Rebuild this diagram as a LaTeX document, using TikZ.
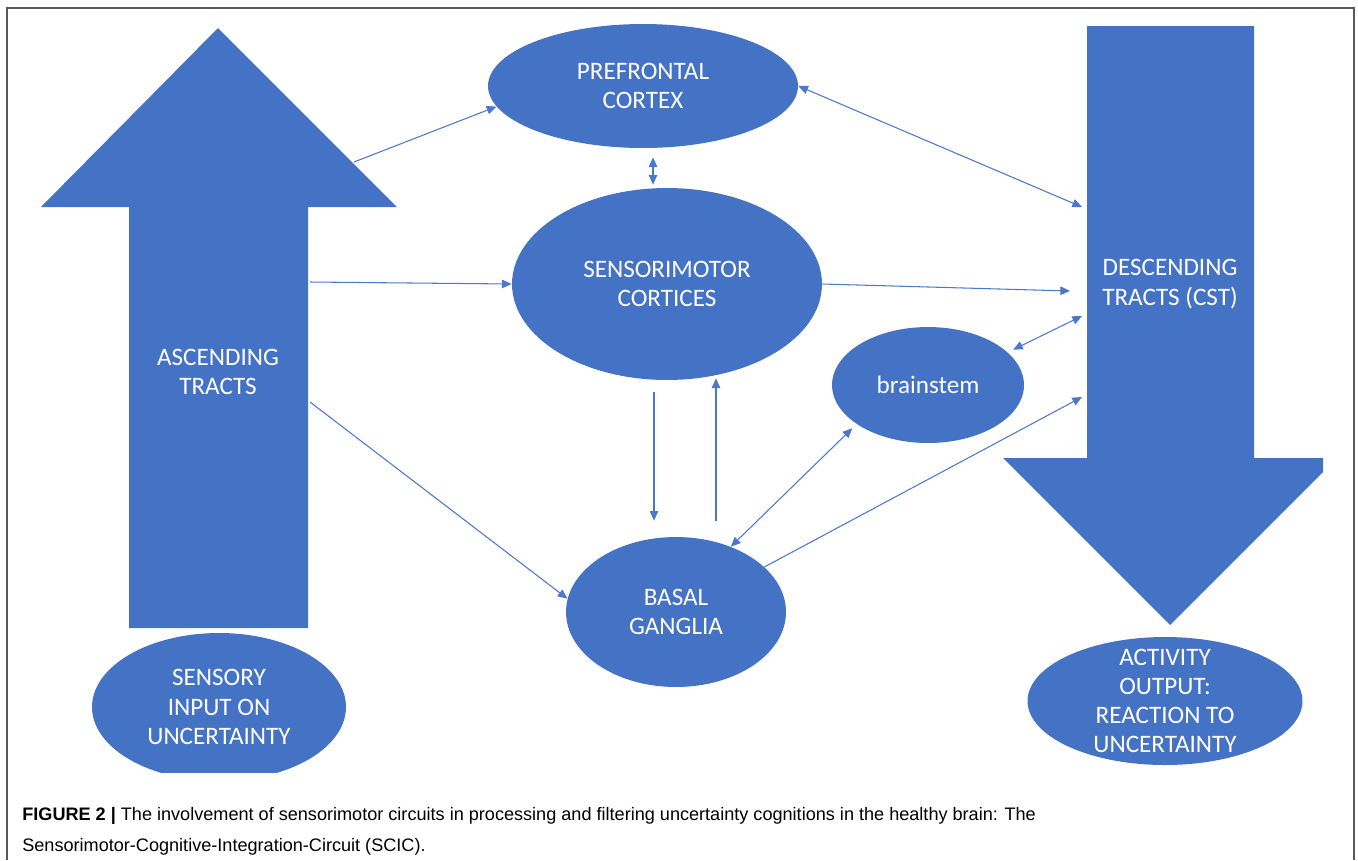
\documentclass[tikz,border=0pt]{standalone}
\usepackage{fontspec}
\setmainfont{Carlito}
\newfontfamily\capfont{Liberation Sans}
\usepackage{xcolor}
\usetikzlibrary{shapes.geometric,arrows.meta,calc}

\definecolor{ppblue}{HTML}{4472C4}
\definecolor{lnblue}{HTML}{4A78CC}

\begin{document}
\begin{tikzpicture}[x=0.02cm, y=-0.02cm,
        main/.style = {ellipse, fill=ppblue, text=white, inner sep=0pt, align=center,
                       font=\fontsize{14.3}{16.6}\selectfont},
        big/.style = {fill=ppblue},
        label/.style = {text=white, align=center, font=\fontsize{14.3}{16.6}\selectfont},
        link/.style = {draw=lnblue, line width=0.6pt, -{Triangle[length=5.5pt,width=4.8pt]}},
        both/.style = {link, {Triangle[length=5.5pt,width=4.8pt]}-{Triangle[length=5.5pt,width=4.8pt]}}]
        \useasboundingbox (0,0) rectangle (1358,860);

        % frame
        \draw[line width=1pt, black!65] (7,860) -- (7,8) -- (1354,8) -- (1354,860);

        % the two big arrows
        \fill[big] (129,628) -- (129,207) -- (41,207) -- (218,28) -- (397,207)
                   -- (308,207) -- (308,628) -- cycle;
        \fill[big] (1087,26) -- (1254,26) -- (1254,458) -- (1323,458) -- (1323,472)
                   -- (1170,625) -- (1003,458) -- (1087,458) -- cycle;
        \node[label] (asc) at (218,372) {ASCENDING\\TRACTS};
        \node[label] (desc) at (1170,284) {DESCENDING\\TRACTS (CST)};

        % ellipses
        \node[main, minimum width=6.2cm, minimum height=2.48cm] (pfc) at (643,86) {PREFRONTAL\\CORTEX};
        \node[main, minimum width=6.2cm, minimum height=3.84cm] (smc) at (667,284) {SENSORIMOTOR\\CORTICES};
        \node[main, minimum width=3.84cm, minimum height=2.32cm] (bs) at (928,385) {brainstem};
        \node[main, minimum width=4.4cm, minimum height=3cm] (bg) at (676,612) {BASAL\\GANGLIA};
        \begin{scope}
            \clip (0,0) rectangle (1358,772);
            \node[main, minimum width=5.08cm, minimum height=2.96cm] (sin) at (219,707) {SENSORY\\INPUT ON\\UNCERTAINTY};
        \end{scope}
        \node[main, minimum width=5.5cm, minimum height=2.56cm] (act) at (1165,701) {};
        \node[label] (actx) at (act) {ACTIVITY\\OUTPUT:\\REACTION TO\\UNCERTAINTY};

        % ends on the big arrows
        \coordinate (a1) at (354,162);
        \coordinate (a2) at (310,282);
        \coordinate (a3) at (310,402);
        \coordinate (d1) at (1082,207);
        \coordinate (d2) at (1070,291);
        \coordinate (d3) at (1082,316);
        \coordinate (d4) at (1082,397);

        % connectors
        \draw[link] (a1) -- (pfc.188);
        \draw[both] ($(pfc.south)+(10,9)$) -- ($(smc.north)+(-14,-3)$);
        \draw[both] (pfc.east) -- (d1);
        \draw[link] (a2) -- (smc.west);
        \draw[link] (smc.east) -- (d2);
        \draw[both] ($(bs.22)+(5,-3)$) -- (d3);
        \draw[link] (a3) -- (bg.173);
        \draw[link] ($(smc.south)+(-13,12)$) coordinate (s1) -- ($(s1 |- bg.north)+(0,-16)$);
        \draw[link] ($(bg.north)+(40,-16)$) coordinate (s2) -- ($(s2 |- smc.south)+(0,-2)$);
        \draw[both] (bg.50) -- ($(bs.210)+(-6,3)$);
        \draw[link] (bg.27) -- (d4);

        % caption
        \node[anchor=base west, inner sep=0pt, align=left, font=\capfont\fontsize{10.3}{17.3}\selectfont] (cap) at (22,851)
            {\textbf{FIGURE 2 |} The involvement of sensorimotor circuits in processing and filtering uncertainty cognitions in the healthy brain: The\\
             Sensorimotor-Cognitive-Integration-Circuit (SCIC).};
    \end{tikzpicture}
\end{document}
